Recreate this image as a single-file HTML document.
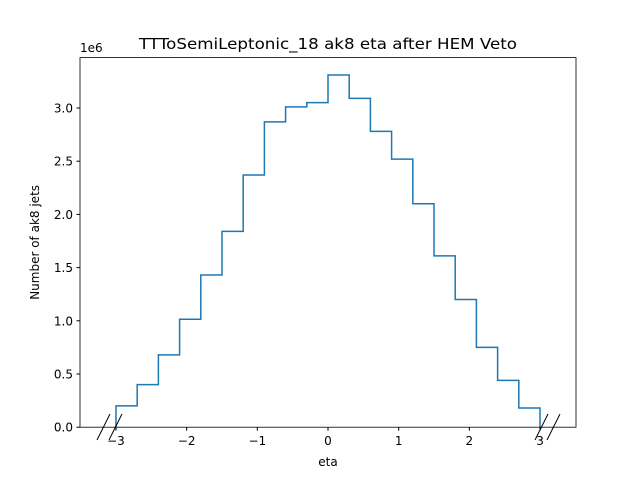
<!DOCTYPE html>
<html><head><meta charset="utf-8"><style>
body{margin:0;background:#fff;}
text{font-family:"DejaVu Sans","Liberation Sans",sans-serif;fill:#000;}
</style></head><body>
<svg id="chart" width="640" height="480" xmlns="http://www.w3.org/2000/svg">
<rect width="640" height="480" fill="#fff"/>
<text x="139" y="49" font-size="15.5" textLength="378" lengthAdjust="spacingAndGlyphs">TTToSemiLeptonic_18 ak8 eta after HEM Veto</text>
<text x="328" y="466" font-size="12" text-anchor="middle">eta</text>
<text transform="translate(39,242.4) rotate(-90)" font-size="12" text-anchor="middle">Number of ak8 jets</text>
<text x="80" y="52" font-size="12">1e6</text>
<g id="ticks"></g>
<path id="hist" fill="none" stroke="#1f77b4" stroke-width="1.5"/>
<g stroke="#000" stroke-width="1">
<line x1="97" y1="440" x2="110" y2="414"/><line x1="109" y1="440" x2="122" y2="414"/>
<line x1="535" y1="440" x2="548" y2="414"/><line x1="547" y1="440" x2="560" y2="414"/>
</g>
<rect x="80" y="57.6" width="496" height="369.6" fill="none" stroke="#000" stroke-width="0.8"/>
</svg>
<script>
const binEdges=[-3,-2.7,-2.4,-2.1,-1.8,-1.5,-1.2,-0.9,-0.6,-0.3,0,0.3,0.6,0.9,1.2,1.5,1.8,2.1,2.4,2.7,3];
const counts=[0.20,0.40,0.68,1.015,1.43,1.84,2.37,2.87,3.01,3.05,3.31,3.09,2.78,2.52,2.10,1.61,1.20,0.75,0.44,0.18];
const xTicks=[-3,-2,-1,0,1,2,3];
const yTicks=[0,0.5,1.0,1.5,2.0,2.5,3.0];
const xs=v=>328+v*70.67;
const ys=v=>427.2-v*106.4;
const NS="http://www.w3.org/2000/svg";
let d="M"+xs(binEdges[0])+","+ys(0);
counts.forEach((c,i)=>{d+=" L"+xs(binEdges[i])+","+ys(c)+" L"+xs(binEdges[i+1])+","+ys(c);});
d+=" L"+xs(binEdges[binEdges.length-1])+","+ys(0);
document.getElementById('hist').setAttribute('d',d);
const g=document.getElementById('ticks');
xTicks.forEach(t=>{
 const l=document.createElementNS(NS,'line');
 
 
 l.setAttribute('x1',xs(t));l.setAttribute('x2',xs(t));l.setAttribute('y1',427.2);l.setAttribute('y2',430.7);l.setAttribute('stroke','#000');g.appendChild(l);
 const tx=document.createElementNS(NS,'text');
 
 
 tx.setAttribute('x',xs(t));tx.setAttribute('y',445);tx.setAttribute('font-size','12');tx.setAttribute('text-anchor','middle');
 tx.textContent=t<0?'\u2212'+(-t):String(t);g.appendChild(tx);
});
yTicks.forEach(t=>{
 const l=document.createElementNS(NS,'line');
 
 
 l.setAttribute('x1',76.5);l.setAttribute('x2',80);l.setAttribute('y1',ys(t));l.setAttribute('y2',ys(t));l.setAttribute('stroke','#000');g.appendChild(l);
 const tx=document.createElementNS(NS,'text');
 
 
 tx.setAttribute('x',73);tx.setAttribute('y',ys(t)+4.5);tx.setAttribute('font-size','12');tx.setAttribute('text-anchor','end');
 tx.textContent=t.toFixed(1);g.appendChild(tx);
});
</script>
</body></html>
